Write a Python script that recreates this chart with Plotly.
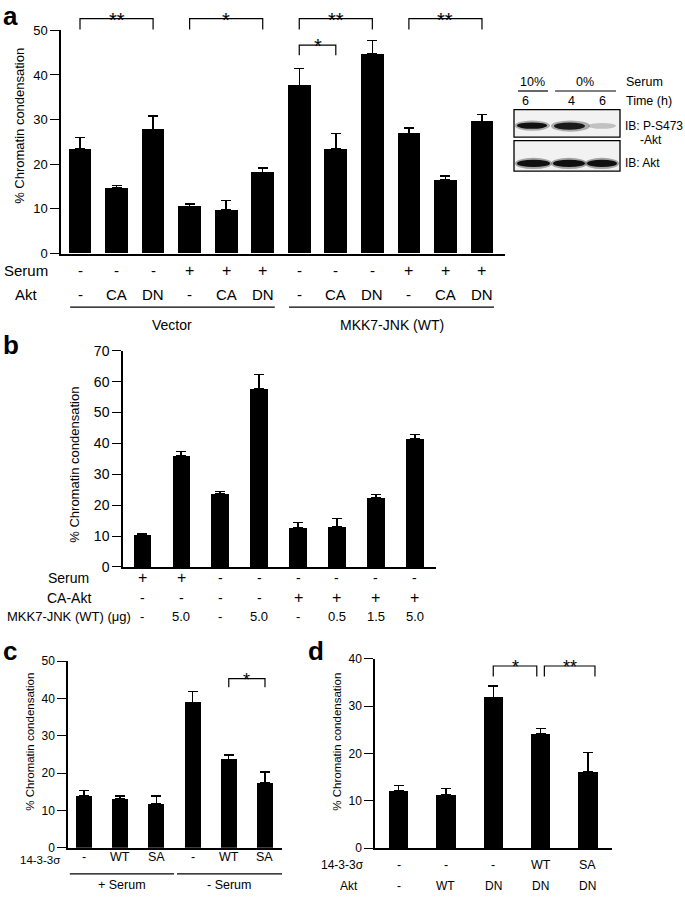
import plotly.graph_objects as go

W, H = 685, 900
FONT = "Liberation Sans, Arial, Helvetica, sans-serif"
NARROW = "Liberation Sans Narrow, Arial Narrow, Liberation Sans, sans-serif"

# ---------------- data ----------------
# Panel a
a_serum = ["-", "-", "-", "+", "+", "+", "-", "-", "-", "+", "+", "+"]
a_akt = ["-", "CA", "DN", "-", "CA", "DN", "-", "CA", "DN", "-", "CA", "DN"]
a_values = [23.4, 14.7, 27.8, 10.5, 9.8, 18.2, 37.7, 23.4, 44.7, 26.9, 16.5, 29.6]
a_errors = [2.6, 0.5, 3.0, 0.6, 2.1, 1.0, 3.7, 3.5, 3.0, 1.2, 0.9, 1.5]
a_groups = ["Vector", "MKK7-JNK (WT)"]
a_ticks = [0, 10, 20, 30, 40, 50]

# Panel b
b_serum = ["+", "+", "-", "-", "-", "-", "-", "-"]
b_ca_akt = ["-", "-", "-", "-", "+", "+", "+", "+"]
b_mkk7 = ["-", "5.0", "-", "5.0", "-", "0.5", "1.5", "5.0"]
b_values = [10.3, 36.0, 23.8, 57.6, 12.8, 13.0, 22.5, 41.4]
b_errors = [0.4, 1.3, 0.7, 4.7, 1.6, 2.6, 0.9, 1.5]
b_ticks = [0, 10, 20, 30, 40, 50, 60, 70]

# Panel c
c_1433 = ["-", "WT", "SA", "-", "WT", "SA"]
c_values = [13.9, 13.1, 11.7, 39.0, 23.7, 17.4]
c_errors = [1.5, 0.8, 2.2, 2.9, 1.2, 2.9]
c_groups = ["+ Serum", "- Serum"]
c_ticks = [0, 10, 20, 30, 40, 50]

# Panel d
d_1433 = ["-", "-", "-", "WT", "SA"]
d_akt = ["-", "WT", "DN", "DN", "DN"]
d_values = [12.1, 11.3, 31.9, 24.2, 16.1]
d_errors = [1.1, 1.3, 2.4, 1.1, 4.1]
d_ticks = [0, 10, 20, 30, 40]

# ---------------- geometry (pixels) ----------------
def xp(px):
    return px / W

def yp(px):
    return 1 - px / H

P = {
    "a": dict(x0=61, x1=505, xr=(-0.52, 11.63), yb=250, yt=22.7, yr=(0, 50), ax="", w=0.62),
    "b": dict(x0=123, x1=436, xr=(-0.49, 7.54), yb=569, yt=349, yr=(0, 70), ax="2", w=0.44),
    "c": dict(x0=68, x1=282, xr=(-0.44, 5.47), yb=855, yt=665, yr=(0, 50), ax="3", w=0.44),
    "d": dict(x0=375, x1=612, xr=(-0.50, 4.51), yb=855.5, yt=662.7, yr=(0, 40), ax="4", w=0.41),
}

def x2paper(p, x):
    g = P[p]
    return xp(g["x0"] + (x - g["xr"][0]) / (g["xr"][1] - g["xr"][0]) * (g["x1"] - g["x0"]))

def v2paper(p, v):
    g = P[p]
    return yp(g["yb"] - (v - g["yr"][0]) / (g["yr"][1] - g["yr"][0]) * (g["yb"] - g["yt"]))

fig = go.Figure()
annotations = []
shapes = []

def txt(x, ypx, text, size=13, xref="paper", xanchor="center", font=FONT, bold=False, yanchor="middle", angle=0, color="black"):
    annotations.append(dict(
        x=xp(x) if xref == "paper" else x, y=yp(ypx), xref=xref, yref="paper",
        text=("<b>%s</b>" % text) if bold else text, showarrow=False,
        xanchor=xanchor, yanchor=yanchor, textangle=angle,
        font=dict(family=font, size=size, color=color)))

def add_bars(p, values, errors, ticks, tickfont, ticksize):
    g = P[p]
    n = len(values)
    fig.add_trace(go.Bar(
        x=list(range(n)), y=values, width=g["w"],
        marker=dict(color="black", line=dict(width=0)),
        error_y=dict(type="data", array=errors, arrayminus=[0] * n, symmetric=False,
                     color="black", thickness=1.4, width=5),
        xaxis="x" + g["ax"], yaxis="y" + g["ax"], showlegend=False, hoverinfo="skip"))
    xa = dict(domain=[xp(g["x0"]), xp(g["x1"])], range=list(g["xr"]), anchor="y" + g["ax"],
              showline=True, linecolor="black", linewidth=1.5, ticks="", showticklabels=False,
              showgrid=False, zeroline=False, fixedrange=True)
    ya = dict(domain=[yp(g["yb"]), yp(g["yt"])], range=list(g["yr"]), anchor="x" + g["ax"],
              showline=True, linecolor="black", linewidth=1.5, ticks="outside", ticklen=9,
              tickwidth=1.4, tickcolor="black", tickvals=ticks, showgrid=False, zeroline=False,
              tickfont=dict(family=tickfont, size=ticksize, color="black"), fixedrange=True)
    fig.update_layout(**{"xaxis" + g["ax"]: xa, "yaxis" + g["ax"]: ya})

def bracket(p, i, j, ytop, ydrop, label, size=20):
    x0, x1 = x2paper(p, i), x2paper(p, j)
    yt, yd = v2paper(p, ytop), v2paper(p, ydrop)
    shapes.append(dict(type="path", xref="paper", yref="paper",
                       path="M %f,%f L %f,%f L %f,%f L %f,%f" % (x0, yd, x0, yt, x1, yt, x1, yd),
                       line=dict(color="black", width=1.2)))
    annotations.append(dict(x=(x0 + x1) / 2, y=yt, xref="paper", yref="paper", text=label,
                            showarrow=False, xanchor="center", yanchor="middle", yshift=-1,
                            font=dict(family=FONT, size=size, color="black")))

# ---------------- panel a ----------------
add_bars("a", a_values, a_errors, a_ticks, FONT, 13)
txt(1, 8, "a", size=26, bold=True, xanchor="left")
txt(20, 120, "% Chromatin condensation", size=13, angle=-90)
txt(2, 267, "Serum", size=15, xanchor="left")
txt(13, 292, "Akt", size=15, xanchor="left")
for i, (s, k) in enumerate(zip(a_serum, a_akt)):
    txt(i, 267, s, size=16 if s == "+" else 15, xref="x")
    txt(i, 292, k, size=15, xref="x")
for gi, name in enumerate(a_groups):
    lo, hi = (-0.27, 5.33) if gi == 0 else (5.72, 11.33)
    shapes.append(dict(type="line", xref="paper", yref="paper",
                       x0=x2paper("a", lo), x1=x2paper("a", hi), y0=yp(304.5), y1=yp(304.5),
                       line=dict(color="black", width=1.2)))
    annotations.append(dict(x=(x2paper("a", lo) + x2paper("a", hi)) / 2, y=yp(323), xref="paper",
                            yref="paper", text=name, showarrow=False, xanchor="center",
                            yanchor="middle", font=dict(family=FONT, size=14, color="black")))
bracket("a", 0, 2, 52.6, 50.2, "**")
bracket("a", 3, 5, 52.6, 50.2, "*")
bracket("a", 6, 8, 52.6, 50.2, "**")
bracket("a", 6, 7, 46.7, 44.4, "*")
bracket("a", 9, 11, 52.6, 50.2, "**")

# ---------------- western blot inset ----------------
def rect(x0, y0, x1, y1, fill=None, lw=1.3, opacity=1.0, kind="rect"):
    shapes.append(dict(type=kind, xref="paper", yref="paper", x0=xp(x0), x1=xp(x1),
                       y0=yp(y1), y1=yp(y0), fillcolor=fill if fill else "rgba(0,0,0,0)",
                       opacity=opacity,
                       line=dict(color="black", width=lw) if lw else dict(width=0)))

rect(514, 103.5, 620, 131.5, fill="#f2f2f2")
rect(514, 135, 620, 166, fill="#f2f2f2")
# phospho-Akt bands (box 1)
rect(514.5, 114.5, 550, 125, fill="#555", lw=0, opacity=0.45, kind="circle")
rect(517, 116.5, 547, 123, fill="#000", lw=0, opacity=0.9, kind="circle")
rect(551, 114.5, 590, 126, fill="#555", lw=0, opacity=0.45, kind="circle")
rect(554, 116.5, 585, 124, fill="#000", lw=0, opacity=0.85, kind="circle")
rect(588, 117, 616, 123, fill="#777", lw=0, opacity=0.4, kind="circle")
# total Akt bands (box 2)
for lx0, lx1 in [(515, 552), (551, 587), (585, 619)]:
    rect(lx0, 152.5, lx1, 164, fill="#555", lw=0, opacity=0.5, kind="circle")
    rect(lx0 + 2, 154.5, lx1 - 2, 162, fill="#000", lw=0, opacity=0.9, kind="circle")
txt(532, 75, "10%", size=12.5)
txt(585, 75, "0%", size=12.5)
shapes.append(dict(type="line", xref="paper", yref="paper", x0=xp(518), x1=xp(548),
                   y0=yp(84.5), y1=yp(84.5), line=dict(color="black", width=1.2)))
shapes.append(dict(type="line", xref="paper", yref="paper", x0=xp(555), x1=xp(616),
                   y0=yp(84.5), y1=yp(84.5), line=dict(color="black", width=1.2)))
txt(525, 95, "6", size=12.5)
txt(571, 95, "4", size=12.5)
txt(602, 95, "6", size=12.5)
txt(624, 75, "Serum", size=12.5, xanchor="left")
txt(624, 95, "Time (h)", size=12.5, xanchor="left")
txt(623, 120, "IB: P-S473", size=12, xanchor="left")
txt(638, 134, "-Akt", size=12, xanchor="left")
txt(623, 158, "IB: Akt", size=12, xanchor="left")

# ---------------- panel b ----------------
add_bars("b", b_values, b_errors, b_ticks, NARROW, 14)
txt(1, 343, "b", size=26, bold=True, xanchor="left")
txt(75, 465, "% Chromatin condensation", size=13, angle=-90)
txt(91, 580, "Serum", size=14, xanchor="right", font=NARROW)
txt(93, 600.5, "CA-Akt", size=14, xanchor="right", font=NARROW)
txt(133, 620, "MKK7-JNK (WT) (\u03bcg)", size=13, xanchor="right")
for i, (s, k, m) in enumerate(zip(b_serum, b_ca_akt, b_mkk7)):
    txt(i, 580, s, size=16 if s == "+" else 14, xref="x2", font=NARROW)
    txt(i, 600.5, k, size=16 if k == "+" else 14, xref="x2", font=NARROW)
    txt(i, 620, m, size=13, xref="x2")

# ---------------- panel c ----------------
add_bars("c", c_values, c_errors, c_ticks, FONT, 12)
txt(1, 655, "c", size=26, bold=True, xanchor="left")
txt(30, 747, "% Chromatin condensation", size=11.5, angle=-90)
txt(62, 867, "14-3-3\u03c3", size=11.5, xanchor="right")
for i, s in enumerate(c_1433):
    txt(i, 864, s, size=12.5, xref="x3")
for gi, name in enumerate(c_groups):
    lo, hi = (-0.39, 2.49) if gi == 0 else (2.57, 5.47)
    shapes.append(dict(type="line", xref="paper", yref="paper",
                       x0=x2paper("c", lo), x1=x2paper("c", hi), y0=yp(881.5), y1=yp(881.5),
                       line=dict(color="black", width=1.2)))
    annotations.append(dict(x=(x2paper("c", lo) + x2paper("c", hi)) / 2, y=yp(892.5), xref="paper",
                            yref="paper", text=name, showarrow=False, xanchor="center",
                            yanchor="middle", font=dict(family=FONT, size=12.5, color="black")))
bracket("c", 4, 5, 45.3, 43.0, "*", size=18)

# ---------------- panel d ----------------
add_bars("d", d_values, d_errors, d_ticks, FONT, 12)
txt(306, 655, "d", size=26, bold=True, xanchor="left")
txt(337, 747, "% Chromatin condensation", size=11.5, angle=-90)
txt(366, 873, "14-3-3\u03c3", size=12, xanchor="right")
txt(338, 893.5, "Akt", size=12, xanchor="left")
for i, (s, k) in enumerate(zip(d_1433, d_akt)):
    txt(i, 873, s, size=12.5, xref="x4")
    txt(i, 893.5, k, size=12, xref="x4")
bracket("d", 2, 2.92, 38.5, 36.3, "*", size=18)
bracket("d", 3.08, 4.15, 38.5, 36.3, "**", size=18)

fig.update_layout(
    width=W, height=H, margin=dict(l=0, r=0, t=0, b=0),
    paper_bgcolor="white", plot_bgcolor="white",
    font=dict(family=FONT, color="black"),
    annotations=annotations, shapes=shapes, bargap=0, showlegend=False,
)
fig.write_html("out.html", config={"displayModeBar": False},
               post_script="document.body.style.margin='0px';document.body.style.padding='0px';")
